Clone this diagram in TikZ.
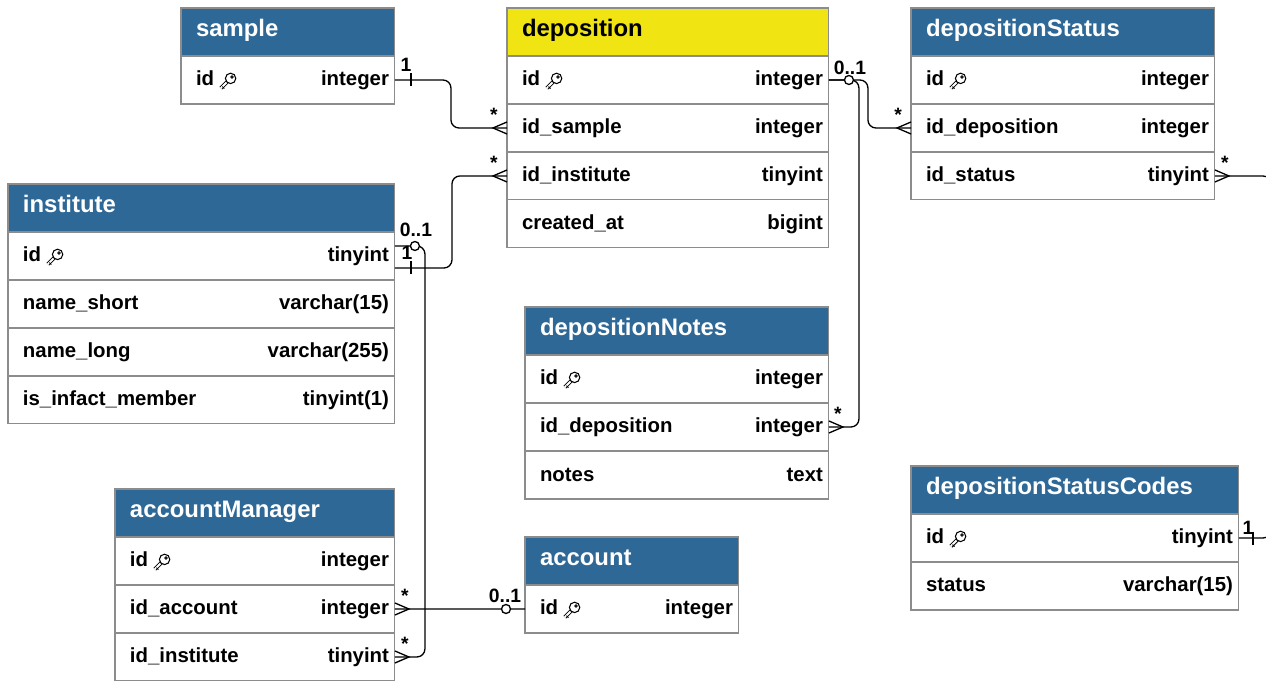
\documentclass[tikz,border=0pt]{standalone}
\usepackage{fontspec}
\setmainfont{Liberation Sans}
\usetikzlibrary{positioning,calc}

\definecolor{headblue}{RGB}{46,104,150}
\definecolor{headyellow}{RGB}{240,228,18}
\definecolor{linegray}{RGB}{140,140,140}

\newcommand\rowfont{\fontsize{11.6}{14}\selectfont\bfseries}
\newcommand\headfont{\fontsize{13.6}{16}\selectfont\bfseries}
\newcommand\cardfont{\fontsize{11}{13}\selectfont\bfseries}
\newcommand\fld[2]{\hspace*{0.18cm}#1\hfill#2}

\tikzset{
  tabhead/.style={draw=linegray, line width=0.6pt, fill=headblue, text=white, font=\headfont,
    minimum height=0.96cm, text height=0.34cm, text depth=0.15cm,
    inner xsep=0pt, inner ysep=0pt, outer sep=0pt, anchor=north west},
  tabrow/.style={draw=linegray, line width=0.6pt, fill=white, text=black, font=\rowfont,
    minimum height=0.96cm, inner xsep=0pt, inner ysep=0pt, outer sep=0pt},
  tabw/.style={minimum width=#1cm, text width=#1cm-0.24cm},
  rel/.style={line width=0.75pt, rounded corners=0.16cm},
  foot/.style={line width=0.75pt},
  card/.style={font=\cardfont, inner sep=0pt, anchor=base},
  keyicon/.pic={
    \draw[line width=0.55pt, double=white, double distance=1.1pt] (-0.5,-0.5) -- (-7.2,-7.2);
    \draw[line width=0.55pt] (-5.6,-5.6) -- (-3.6,-7.6);
    \draw[line width=0.6pt, fill=white] (2.6,2.6) circle[radius=5.2];
    \draw[line width=0.5pt] (4,4) circle[radius=1.3];
  }
}

\begin{document}
\begin{tikzpicture}[x=0.02cm, y=0.02cm]
\useasboundingbox (0,0) rectangle (1266,-680);
\clip (0,0) rectangle (1266,-680);

% sample
\node[tabhead, tabw=4.28] (smp) at (181,-8) {\fld{sample}{}};
\node[tabrow, tabw=4.28, below=0pt of smp] (smp-id) {\fld{id}{integer}};

% deposition
\node[tabhead, tabw=6.44, fill=headyellow, text=black] (dep) at (507,-8) {\fld{deposition}{}};
\node[tabrow, tabw=6.44, below=0pt of dep] (dep-id) {\fld{id}{integer}};
\node[tabrow, tabw=6.44, below=0pt of dep-id] (dep-smp) {\fld{id\_sample}{integer}};
\node[tabrow, tabw=6.44, below=0pt of dep-smp] (dep-inst) {\fld{id\_institute}{tinyint}};
\node[tabrow, tabw=6.44, below=0pt of dep-inst] (dep-time) {\fld{created\_at}{bigint}};

% depositionStatus
\node[tabhead, tabw=6.08] (dst) at (911,-8) {\fld{depositionStatus}{}};
\node[tabrow, tabw=6.08, below=0pt of dst] (dst-id) {\fld{id}{integer}};
\node[tabrow, tabw=6.08, below=0pt of dst-id] (dst-dep) {\fld{id\_deposition}{integer}};
\node[tabrow, tabw=6.08, below=0pt of dst-dep] (dst-status) {\fld{id\_status}{tinyint}};

% institute
\node[tabhead, tabw=7.74] (inst) at (8,-184) {\fld{institute}{}};
\node[tabrow, tabw=7.74, below=0pt of inst] (inst-id) {\fld{id}{tinyint}};
\node[tabrow, tabw=7.74, below=0pt of inst-id] (inst-short) {\fld{name\_short}{varchar(15)}};
\node[tabrow, tabw=7.74, below=0pt of inst-short] (inst-long) {\fld{name\_long}{varchar(255)}};
\node[tabrow, tabw=7.74, below=0pt of inst-long] (inst-member) {\fld{is\_infact\_member}{tinyint(1)}};

% depositionNotes
\node[tabhead, tabw=6.08] (dn) at (525,-307) {\fld{depositionNotes}{}};
\node[tabrow, tabw=6.08, below=0pt of dn] (dn-id) {\fld{id}{integer}};
\node[tabrow, tabw=6.08, below=0pt of dn-id] (dn-dep) {\fld{id\_deposition}{integer}};
\node[tabrow, tabw=6.08, below=0pt of dn-dep] (dn-notes) {\fld{notes}{text}};

% depositionStatusCodes
\node[tabhead, tabw=6.56] (dsc) at (911,-466) {\fld{depositionStatusCodes}{}};
\node[tabrow, tabw=6.56, below=0pt of dsc] (dsc-id) {\fld{id}{tinyint}};
\node[tabrow, tabw=6.56, below=0pt of dsc-id] (dsc-status) {\fld{status}{varchar(15)}};

% accountManager
\node[tabhead, tabw=5.6] (am) at (115,-489) {\fld{accountManager}{}};
\node[tabrow, tabw=5.6, below=0pt of am] (am-id) {\fld{id}{integer}};
\node[tabrow, tabw=5.6, below=0pt of am-id] (am-acc) {\fld{id\_account}{integer}};
\node[tabrow, tabw=5.6, below=0pt of am-acc] (am-inst) {\fld{id\_institute}{tinyint}};

% account
\node[tabhead, tabw=4.28] (acc) at (525,-537) {\fld{account}{}};
\node[tabrow, tabw=4.28, below=0pt of acc] (acc-id) {\fld{id}{integer}};

% keys
\pic at ($(smp-id.west)+(47,-1)$) {keyicon};
\pic at ($(dep-id.west)+(47,-1)$) {keyicon};
\pic at ($(dst-id.west)+(47,-1)$) {keyicon};
\pic at ($(inst-id.west)+(47,-1)$) {keyicon};
\pic at ($(dn-id.west)+(47,-1)$) {keyicon};
\pic at ($(dsc-id.west)+(47,-1)$) {keyicon};
\pic at ($(am-id.west)+(47,-1)$) {keyicon};
\pic at ($(acc-id.west)+(47,-1)$) {keyicon};

% relations
\draw[rel] (smp-id.east) -- ++(56,0) |- (dep-smp.west);
\draw[rel] (inst-id.east) ++(0,-12) -- ++(57,0) |- (dep-inst.west);
\draw[rel] (inst-id.east) ++(0,10) -- ++(30,0) |- (am-inst.east);
\draw[rel] (dep-id.east) -- ++(39,0) |- (dst-dep.west);
\draw[rel] (dep-id.east) -- ++(30,0) |- (dn-dep.east);
\draw[rel] (am-acc.east) -- (acc-id.west);
\draw[rel] (dst-status.east) -- ++(56,0) |- (dsc-id.east);

% many ends
\draw[foot] (dep-smp.west) ++(0,6) -- ++(-14,-6) -- ++(14,-6);
\draw[foot] (dep-inst.west) ++(0,6) -- ++(-14,-6) -- ++(14,-6);
\draw[foot] (dst-dep.west) ++(0,6) -- ++(-14,-6) -- ++(14,-6);
\draw[foot] (dst-status.east) ++(0,6) -- ++(14,-6) -- ++(-14,-6);
\draw[foot] (dn-dep.east) ++(0,6) -- ++(14,-6) -- ++(-14,-6);
\draw[foot] (am-acc.east) ++(0,6) -- ++(14,-6) -- ++(-14,-6);
\draw[foot] (am-inst.east) ++(0,6) -- ++(14,-6) -- ++(-14,-6);

% one ends
\draw[foot] (smp-id.east) ++(16,6.5) -- ++(0,-13);
\draw[foot] (inst-id.east) ++(16,-5.5) -- ++(0,-13);
\draw[foot] (dsc-id.east) ++(14,6.5) -- ++(0,-13);
\draw[foot, fill=white] (dep-id.east) ++(20,0) circle[radius=4.5];
\draw[foot, fill=white] (inst-id.east) ++(20,10) circle[radius=4.5];
\draw[foot, fill=white] (acc-id.west) ++(-19,0) circle[radius=4.5];

% cardinalities
\node[card] (c-smp) at ($(smp-id.east)+(11,8)$) {1};
\node[card] (c-depsmp) at ($(dep-smp.west)+(-13,6)$) {*};
\node[card] (c-depinst) at ($(dep-inst.west)+(-13,6)$) {*};
\node[card] (c-depid) at ($(dep-id.east)+(21,5)$) {0..1};
\node[card] (c-dstdep) at ($(dst-dep.west)+(-13,6)$) {*};
\node[card] (c-dststatus) at ($(dst-status.east)+(10,6)$) {*};
\node[card] (c-instzero) at ($(inst-id.east)+(21,19)$) {0..1};
\node[card] (c-instone) at ($(inst-id.east)+(12,-4)$) {1};
\node[card] (c-dndep) at ($(dn-dep.east)+(9,6)$) {*};
\node[card] (c-dscid) at ($(dsc-id.east)+(9,3)$) {1};
\node[card] (c-amacc) at ($(am-acc.east)+(10,6)$) {*};
\node[card] (c-aminst) at ($(am-inst.east)+(10,6)$) {*};
\node[card] (c-accid) at ($(acc-id.west)+(-20,7)$) {0..1};
\end{tikzpicture}
\end{document}
